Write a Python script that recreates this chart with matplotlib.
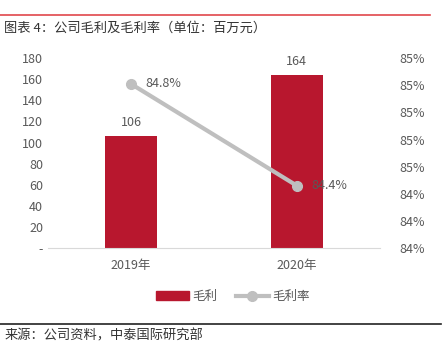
import matplotlib
matplotlib.use("Agg")
import matplotlib.pyplot as plt
import matplotlib.ticker as ticker
from matplotlib.lines import Line2D
import numpy as np

plt.rcParams['font.family'] = ['Noto Sans CJK SC', 'DejaVu Sans']

years = ['2019年', '2020年']
gross_profit = [106, 164]          # 百万元
gross_margin = [84.805, 84.43]     # %
margin_labels = ['84.8%', '84.4%']

bar_color = '#B8172E'
line_color = '#BFBFBF'
text_color = '#595959'

fig = plt.figure(figsize=(4.48, 3.52), dpi=100)
ax = fig.add_axes([0.107, 0.295, 0.741, 0.54])
x = np.arange(len(years))

ax.bar(x, gross_profit, width=0.31, color=bar_color, zorder=2)
for xi, v in zip(x, gross_profit):
    ax.text(xi, v + 7, str(v), ha='center', va='bottom', fontsize=9, color=text_color)

ax.set_xlim(-0.5, 1.5)
ax.set_ylim(0, 180)
ax.yaxis.set_major_locator(ticker.MultipleLocator(20))
ax.yaxis.set_major_formatter(ticker.FuncFormatter(lambda v, p: '-' if v == 0 else '%d' % v))
ax.set_xticks(x)
ax.set_xticklabels(years)
ax.tick_params(axis='both', length=0, labelsize=9, colors=text_color)
ax.tick_params(axis='x', pad=8)
for s in ['top', 'right', 'left']:
    ax.spines[s].set_visible(False)
ax.spines['bottom'].set_color('#D9D9D9')

ax2 = ax.twinx()
ax2.plot(x, gross_margin, color=line_color, lw=3, marker='o', ms=7, zorder=3)
for xi, v, lab in zip(x, gross_margin, margin_labels):
    ax2.text(xi + 0.09, v, lab, ha='left', va='center', fontsize=9, color=text_color)
ax2.set_ylim(84.2, 84.9)
ax2.yaxis.set_major_locator(ticker.MultipleLocator(0.1))
ax2.yaxis.set_major_formatter(ticker.FuncFormatter(lambda v, p: '%d%%' % int(v + 0.5 + 1e-6)))
ax2.tick_params(axis='y', length=0, labelsize=9, colors=text_color, pad=14)
for s in ['top', 'right', 'left', 'bottom']:
    ax2.spines[s].set_visible(False)

handles = [plt.Rectangle((0, 0), 1, 1, color=bar_color),
           Line2D([0], [0], color=line_color, lw=3, marker='o', ms=7)]
fig.legend(handles, ['毛利', '毛利率'], loc='center', bbox_to_anchor=(0.52, 0.157),
           ncol=2, frameon=False, fontsize=9, labelcolor=text_color,
           handlelength=2.6, columnspacing=1.5, handletextpad=0.3)

# title and rules
fig.add_artist(Line2D([0, 0.96], [0.957, 0.957], color='#E0474C', lw=1.2))
fig.text(0.01, 0.92, '图表 4：公司毛利及毛利率（单位：百万元）', fontsize=9.5,
         color='#333333', va='center')
fig.add_artist(Line2D([0, 0.985], [0.08, 0.08], color='#222222', lw=1.2))
fig.text(0.01, 0.045, '来源：公司资料，中泰国际研究部', fontsize=9.5,
         color='#333333', va='center')

fig.savefig('out.png', dpi=100)
